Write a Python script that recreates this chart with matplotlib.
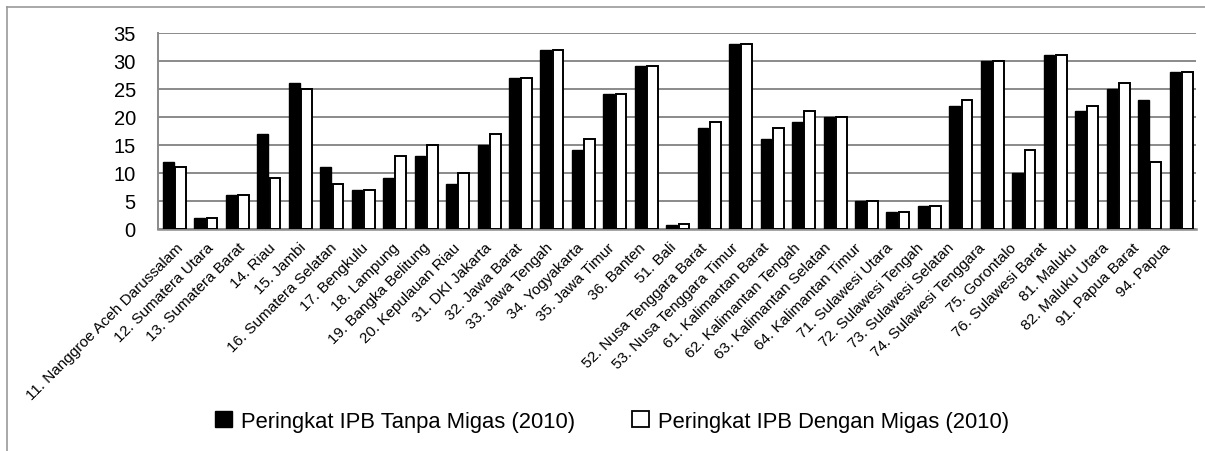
import matplotlib.pyplot as plt
from matplotlib.lines import Line2D
from matplotlib.patches import Patch
from matplotlib.transforms import ScaledTranslation
import numpy as np

provinces = [
    "11. Nanggroe Aceh Darussalam", "12. Sumatera Utara", "13. Sumatera Barat",
    "14. Riau", "15. Jambi", "16. Sumatera Selatan", "17. Bengkulu",
    "18. Lampung", "19. Bangka Belitung", "20. Kepulauan Riau", "31. DKI Jakarta",
    "32. Jawa Barat", "33. Jawa Tengah", "34. Yogyakarta", "35. Jawa Timur",
    "36. Banten", "51. Bali", "52. Nusa Tenggara Barat", "53. Nusa Tenggara Timur",
    "61. Kalimantan Barat", "62. Kalimantan Tengah", "63. Kalimantan Selatan",
    "64. Kalimantan Timur", "71. Sulawesi Utara", "72. Sulawesi Tengah",
    "73. Sulawesi Selatan", "74. Sulawesi Tenggara", "75. Gorontalo",
    "76. Sulawesi Barat", "81. Maluku", "82. Maluku Utara", "91. Papua Barat",
    "94. Papua",
]
tanpa_migas = [12, 2, 6, 17, 26, 11, 7, 9, 13, 8, 15, 27, 32, 14, 24, 29, 0.6,
               18, 33, 16, 19, 20, 5, 3, 4, 22, 30, 10, 31, 21, 25, 23, 28]
dengan_migas = [11, 2, 6, 9, 25, 8, 7, 13, 15, 10, 17, 27, 32, 16, 24, 29, 0.8,
                19, 33, 18, 21, 20, 5, 3, 4, 23, 30, 14, 31, 22, 26, 12, 28]
series_names = ["Peringkat IPB Tanpa Migas (2010)", "Peringkat IPB Dengan Migas (2010)"]
y_ticks = [0, 5, 10, 15, 20, 25, 30, 35]

plt.rcParams["font.family"] = ["Liberation Sans", "DejaVu Sans"]

fig = plt.figure(figsize=(12.05, 4.52), dpi=100)
ax = fig.add_axes([0.1311, 0.4918, 0.9925 - 0.1311, 0.9254 - 0.4918])

x = np.arange(len(provinces))
w = 0.34
ax.bar(x - 0.17, tanpa_migas, width=w, color="black", edgecolor="black",
       linewidth=1.0, zorder=3)
ax.bar(x + 0.22, dengan_migas, width=w, color="white", edgecolor="black",
       linewidth=1.4, zorder=3)

ax.set_xlim(-0.5, len(provinces) - 0.5)
ax.set_ylim(0, 35)
ax.set_yticks(y_ticks)
ax.set_yticklabels([str(v) for v in y_ticks], fontsize=14.5)
ax.tick_params(axis="y", length=0, pad=16)
ax.tick_params(axis="x", length=0, pad=8)
ax.set_xticks(x)
labels = ax.set_xticklabels(provinces, rotation=45, ha="right", va="top",
                            rotation_mode="anchor", fontsize=11)
# nudge labels slightly to the left, more so towards the right end
for i, lab in enumerate(labels):
    dx = (2 - 0.6 * i) / 100
    lab.set_transform(lab.get_transform() + ScaledTranslation(dx, 0, fig.dpi_scale_trans))

ax.grid(axis="y", color="#8a8a8a", linewidth=1.4, zorder=0)
ax.set_axisbelow(True)
for side in ["top", "right"]:
    ax.spines[side].set_visible(False)
ax.spines["left"].set_color("#8a8a8a")
ax.spines["bottom"].set_color("#8a8a8a")
ax.spines["left"].set_linewidth(1.4)
ax.spines["bottom"].set_linewidth(1.8)

handles = [Patch(facecolor="black", edgecolor="black", linewidth=1.0),
           Patch(facecolor="white", edgecolor="black", linewidth=1.3)]
fig.legend(handles, series_names, loc="center", bbox_to_anchor=(0.508, 0.066),
           ncol=2, frameon=False, fontsize=15.8, handlelength=0.78,
           handleheight=0.75, handletextpad=0.4, columnspacing=2.6)

# outer chart border (only top and left visible in the reference)
fig.add_artist(Line2D([7 / 1205, 1.0], [1 - 8 / 452, 1 - 8 / 452],
                      transform=fig.transFigure, color="#999999", linewidth=1.2))
fig.add_artist(Line2D([7 / 1205, 7 / 1205], [0.0, 1 - 8 / 452],
                      transform=fig.transFigure, color="#999999", linewidth=1.2))

fig.savefig("out.png", dpi=100)
